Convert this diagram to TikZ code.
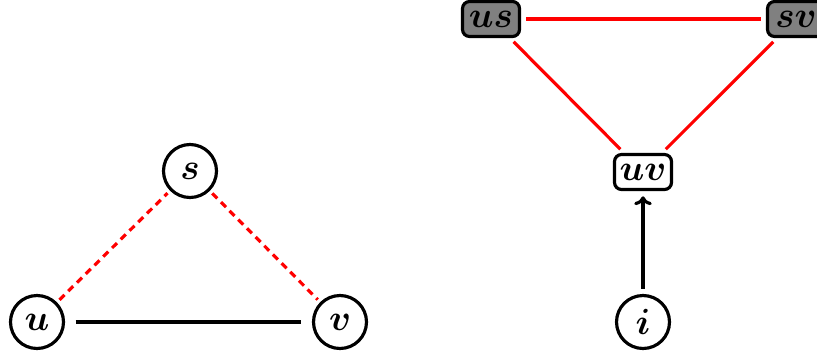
\documentclass[tikz,border=0pt]{standalone}
\usepackage{amsmath}
\usetikzlibrary{arrows.meta}
\begin{document}
\begin{tikzpicture}[>={To[length=5pt,width=10pt]},x=0.02cm,y=0.02cm,font=\huge\boldmath,
	vert/.style={draw,circle,line width=1.8pt,minimum size=1.06cm,inner sep=0pt},
	pair/.style={draw,rounded corners=4pt,line width=1.8pt,minimum height=0.7cm,minimum width=1.14cm,inner sep=2pt},
	hidden/.style={pair,fill=gray},
	link/.style={line width=1.8pt,shorten >=6pt,shorten <=6pt}]
		\useasboundingbox (0,0) rectangle (817,356);
		\node[vert] (u) at (37,34) {$u$};
		\node[vert] (v) at (340,34) {$v$};
		\node[vert] (s) at (190,185) {$s$};
		\draw[link] (u) -- (v);
		\draw[link,red,dashed,dash pattern=on 4pt off 3pt,shorten >=2pt,shorten <=2pt] (u) -- (s);
		\draw[link,red,dashed,dash pattern=on 4pt off 3pt,shorten >=2pt,shorten <=2pt] (s) -- (v);
		\node[hidden] (us) at (491,337) {$us$};
		\node[hidden] (sv) at (796,337) {$sv$};
		\node[pair] (uv) at (643,184) {$uv$};
		\node[vert] (i) at (643,34) {$i$};
		\draw[link,red,shorten >=3pt,shorten <=3pt] (us) -- (sv);
		\draw[link,red,shorten >=3pt,shorten <=3pt] (us) -- (uv);
		\draw[link,red,shorten >=3pt,shorten <=3pt] (sv) -- (uv);
		\draw[link,->,shorten >=3pt,shorten <=3pt] (i) -- (uv);
\end{tikzpicture}
\end{document}
